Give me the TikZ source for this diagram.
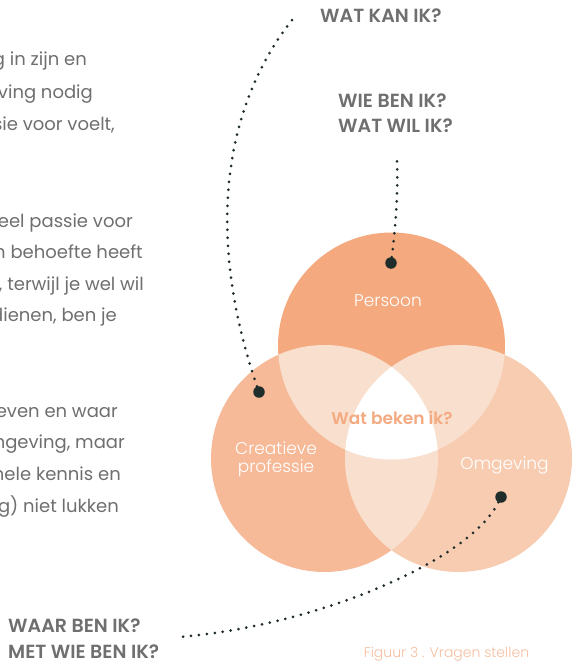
\documentclass[tikz,border=0pt]{standalone}
\usepackage{fontspec}
\setmainfont{Poppins}[BoldFont={* SemiBold}]
\newfontfamily\plight{Poppins Light}
\definecolor{cTop}{HTML}{F4A97F}
\definecolor{cLeft}{HTML}{F6BA99}
\definecolor{cRight}{HTML}{F8CCB1}
\definecolor{cOv}{HTML}{F9DFCE}
\definecolor{tgray}{HTML}{6F6F6F}
\definecolor{dotc}{HTML}{1F2E2B}
\definecolor{salmon}{HTML}{F4AA80}
\definecolor{capc}{HTML}{F6BFA0}
\begin{document}
\begin{tikzpicture}[x=1pt,y=-1pt,
  para/.style={font=\fontsize{18}{18}\selectfont, text=tgray, inner sep=0pt, anchor=base east},
  ques/.style={font=\bfseries\fontsize{19}{19}\selectfont, text=tgray, inner sep=0pt, anchor=base west},
  clab/.style={font=\plight\fontsize{17}{18}\selectfont, text=white, inner sep=0pt, align=center},
  bigdot/.style={circle, fill=dotc, minimum size=11.5pt, inner sep=0pt},
  dotline/.style={draw=dotc, line width=3pt, line cap=round, dash pattern=on 0pt off 8pt}]
\clip (0,0) rectangle (573,661);
\fill[white] (0,0) rectangle (573,661);
% circle centres
\coordinate (T) at (391.5,346);
\coordinate (L) at (324.5,458.5);
\coordinate (R) at (458.5,458.5);
\def\rr{113.5pt}
\fill[cTop] (T) circle (\rr);
\fill[cLeft] (L) circle (\rr);
\fill[cRight] (R) circle (\rr);
\begin{scope}
  \clip (T) circle (\rr);
  \fill[cOv] (L) circle (\rr);
  \fill[cOv] (R) circle (\rr);
\end{scope}
\begin{scope}
  \clip (L) circle (\rr);
  \fill[cOv] (R) circle (\rr);
\end{scope}
\begin{scope}
  \clip (T) circle (\rr);
  \clip (L) circle (\rr);
  \fill[white] (R) circle (\rr);
\end{scope}
% circle labels
\node[clab, anchor=base] (persoon) at (388,306) {Persoon};
\node[clab, anchor=center] (creatief) at (276,459.5) {Creatieve\\professie};
\node[clab, anchor=base] (omgeving) at (504.5,469) {Omgeving};
\node[font=\bfseries\fontsize{17}{17}\selectfont, text=salmon, inner sep=0pt, anchor=base] (wbi) at (392,424) {Wat beken ik?};
\node[font=\plight\fontsize{14}{14}\selectfont, text=capc, inner sep=0pt, anchor=base] (cap) at (446.5,657) {Figuur 3 . Vragen stellen};
% left text fragments
\node[font=\bfseries\fontsize{19}{19}\selectfont, text=dotc, inner sep=0pt, anchor=base west] (head) at (2,1) {AAN};
\node[para] (p1) at (87,66) {g in zijn en};
\node[para] (p2) at (93,98) {eving nodig};
\node[para] (p3) at (115,130) {sie voor voelt,};
\node[para] (p4) at (133,227) {eel passie voor};
\node[para] (p5) at (143,258) {n behoefte heeft};
\node[para] (p6) at (144,290) {n, terwijl je wel wil};
\node[para] (p7) at (117,321) {dienen, ben je};
\node[para] (p8) at (118,417) {even en waar};
\node[para] (p9) at (125,448) {ngeving, maar};
\node[para] (p10) at (121,480) {nele kennis en};
\node[para] (p11) at (119,512) {og) niet lukken};
% questions
\node[ques] (qkan) at (320,23) {WAT KAN IK?};
\node[ques] (qwie) at (338,107) {WIE BEN IK?};
\node[ques] (qwil) at (338,132) {WAT WIL IK?};
\node[ques] (qwaar) at (8,632) {WAAR BEN IK?};
\node[ques] (qmet) at (8,658) {MET WIE BEN IK?};
% dots
\node[bigdot] (dL) at (259,392) {};
\node[bigdot] (dT) at (391,263) {};
\node[bigdot] (dR) at (501,497) {};
\coordinate (eKan) at (296,15);
\coordinate (eWie) at (397,160);
\coordinate (eWaar) at (180,637);
\draw[dotline] (dL) .. controls (214,262) and (210,120) .. (eKan);
\draw[dotline] (dT) .. controls (396,225) and (398,190) .. (eWie);
\draw[dotline] (dR) .. controls (470,560) and (320,625) .. (eWaar);
\end{tikzpicture}
\end{document}
